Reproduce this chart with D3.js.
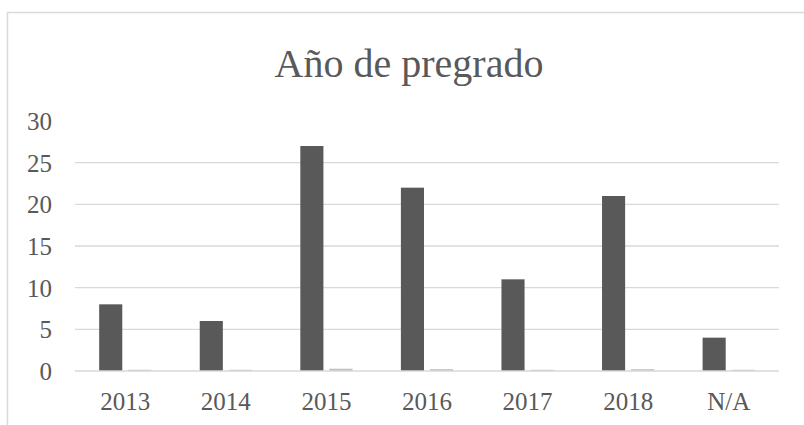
<!DOCTYPE html>
<html>
<head>
<meta charset="utf-8">
<script src="https://cdn.jsdelivr.net/npm/d3@7"></script>
<style>
  body { margin: 0; background: #fff; }
  text { font-family: "Liberation Serif", "DejaVu Serif", serif; fill: #595959; }
</style>
</head>
<body>
<script>
// chart data
const years = ["2013", "2014", "2015", "2016", "2017", "2018", "N/A"];
const counts = [8, 6, 27, 22, 11, 21, 4];
const shares = [0.081, 0.061, 0.273, 0.222, 0.111, 0.212, 0.040];
const yTicks = [0, 5, 10, 15, 20, 25, 30];
const title = "Año de pregrado";

let w = 804,
    h = 425;

let svg = d3.select("body").append("svg")
    .attr("width", w)
    .attr("height", h);

// outer frame (left + top edges only visible)
svg.append("path")
    .attr("d", "M7.5,425 V12.5 H804")
    .attr("fill", "none")
    .attr("stroke", "#d9d9d9")
    .attr("stroke-width", 1.5);

let x = d3.scaleBand()
    .domain(years)
    .range([75, 779])
    .padding(0);

let xInner = d3.scaleBand()
    .domain(["count", "share"])
    .range([0, x.bandwidth()])
    .paddingInner(0.207)
    .paddingOuter(0.83);

let y = d3.scaleLinear()
    .domain([0, 30])
    .range([371, 121]);

// gridlines
svg.append("g")
    .selectAll("line")
    .data(yTicks.filter(function (d) { return d > 0 && d < 30; }))
    .enter().append("line")
    .attr("x1", 75)
    .attr("x2", 779)
    .attr("y1", function (d) { return y(d); })
    .attr("y2", function (d) { return y(d); })
    .attr("stroke", "#d9d9d9")
    .attr("stroke-width", 1.3);

// y labels
svg.append("g")
    .selectAll("text")
    .data(yTicks)
    .enter().append("text")
    .attr("x", 52)
    .attr("y", function (d) { return y(d) + 9; })
    .attr("text-anchor", "end")
    .attr("font-size", 25)
    .text(function (d) { return d; });

// bars
let rows = years.map(function (yr, i) {
    return { year: yr, count: counts[i], share: shares[i] };
});

let groups = svg.append("g")
    .selectAll("g")
    .data(rows)
    .enter().append("g")
    .attr("transform", function (d) { return "translate(" + x(d.year) + ",0)"; });

groups.append("rect")
    .attr("x", xInner("count"))
    .attr("width", xInner.bandwidth())
    .attr("y", function (d) { return y(d.count); })
    .attr("height", function (d) { return y(0) - y(d.count); })
    .attr("fill", "#595959");

// tiny share bars: keep at least 1px so they stay visible
groups.append("rect")
    .attr("x", xInner("share"))
    .attr("width", xInner.bandwidth())
    .attr("y", function (d) { return y(0) - Math.max(1.2, y(0) - y(d.share)); })
    .attr("height", function (d) { return Math.max(1.2, y(0) - y(d.share)); })
    .attr("fill", "#bfbfbf");

// x axis line
svg.append("line")
    .attr("x1", 75)
    .attr("x2", 779)
    .attr("y1", y(0))
    .attr("y2", y(0))
    .attr("stroke", "#d9d9d9")
    .attr("stroke-width", 1.3);

// x labels
svg.append("g")
    .selectAll("text")
    .data(years)
    .enter().append("text")
    .attr("x", function (d) { return x(d) + x.bandwidth() / 2; })
    .attr("y", 410)
    .attr("text-anchor", "middle")
    .attr("font-size", 25)
    .text(function (d) { return d; });

// title
svg.append("text")
    .attr("x", 409)
    .attr("y", 77)
    .attr("text-anchor", "middle")
    .attr("font-size", 40)
    .text(title);
</script>
</body>
</html>
